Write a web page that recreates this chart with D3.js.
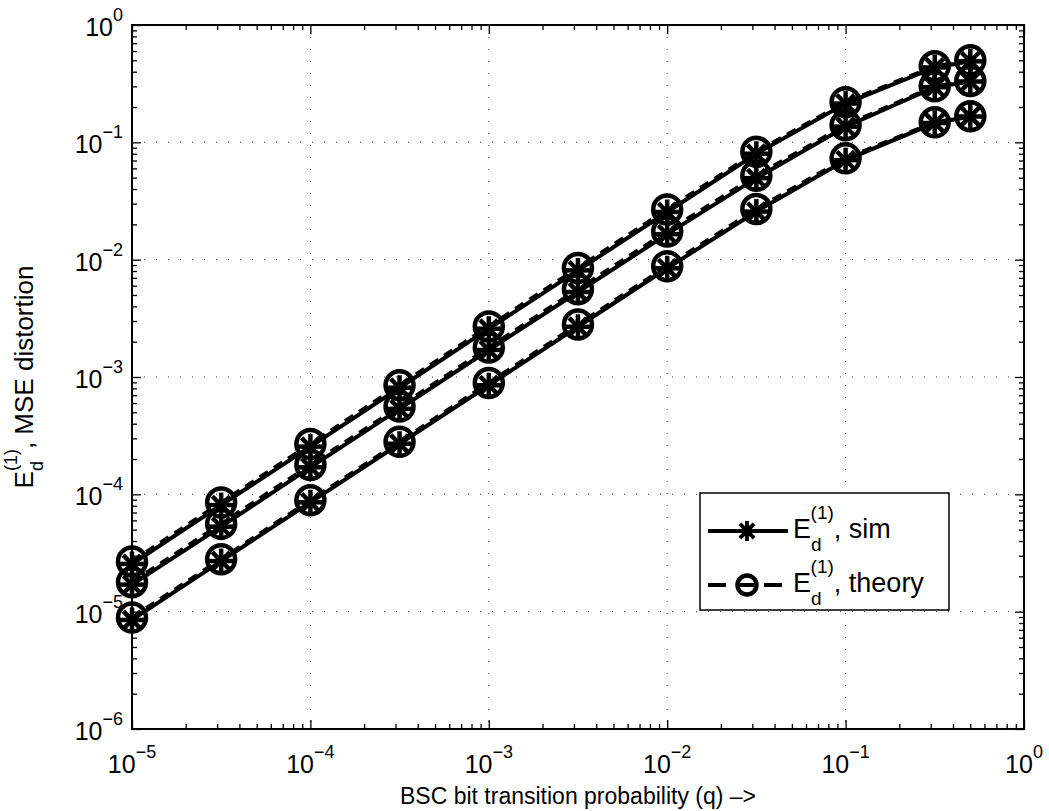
<!DOCTYPE html>
<html>
<head>
<meta charset="utf-8">
<script src="https://cdn.jsdelivr.net/npm/d3@7"></script>
<style>
  body { margin: 0; background: #fff; }
  svg { display: block; }
  text { font-family: "Liberation Sans", Arial, Helvetica, sans-serif; fill: #000; }
</style>
</head>
<body>
<div id="vis1"></div>
<script>
const FRAME_WIDTH = 1049;
const FRAME_HEIGHT = 811;
const MARGINS = {left: 132, right: 25, top: 25, bottom: 82};
const VIS_WIDTH = FRAME_WIDTH - MARGINS.left - MARGINS.right;
const VIS_HEIGHT = FRAME_HEIGHT - MARGINS.top - MARGINS.bottom;

// data
const qValues = [1e-5, 3.16e-5, 1e-4, 3.16e-4, 1e-3, 3.16e-3, 1e-2, 3.16e-2, 0.1, 0.316, 0.5];

const simHigh = [2.55e-5, 8.1e-5, 2.55e-4, 8.1e-4, 2.58e-3, 8.1e-3, 2.55e-2, 8.0e-2, 0.214, 0.435, 0.49];
const simMid  = [1.7e-5, 5.3e-5, 1.7e-4, 5.35e-4, 1.7e-3, 5.3e-3, 1.65e-2, 4.95e-2, 0.136, 0.295, 0.33];
const simLow  = [8.5e-6, 2.7e-5, 8.55e-5, 2.7e-4, 8.5e-4, 2.68e-3, 8.45e-3, 2.57e-2, 7.05e-2, 0.146, 0.166];

const theoryHigh = [2.68e-5, 8.5e-5, 2.68e-4, 8.5e-4, 2.7e-3, 8.5e-3, 2.68e-2, 8.3e-2, 0.22, 0.445, 0.5];
const theoryMid  = [1.78e-5, 5.6e-5, 1.78e-4, 5.6e-4, 1.78e-3, 5.6e-3, 1.74e-2, 5.2e-2, 0.14, 0.3, 0.333];
const theoryLow  = [8.9e-6, 2.8e-5, 8.9e-5, 2.8e-4, 8.9e-4, 2.8e-3, 8.8e-3, 2.7e-2, 7.3e-2, 0.148, 0.1667];

const xTickExps = [-5, -4, -3, -2, -1, 0];
const yTickExps = [-6, -5, -4, -3, -2, -1, 0];

const xLabel = "BSC bit transition probability (q) \u2013>";
const legendNames = [", sim", ", theory"];

const FRAME1 = d3.select('#vis1')
  .append('svg')
    .attr('width', FRAME_WIDTH)
    .attr('height', FRAME_HEIGHT);

const X_SCALE = d3.scaleLog().domain([1e-5, 1]).range([0, VIS_WIDTH]);
const Y_SCALE = d3.scaleLog().domain([1e-6, 1]).range([VIS_HEIGHT, 0]);

const plot = FRAME1.append('g')
  .attr('transform', 'translate(' + MARGINS.left + ',' + MARGINS.top + ')');

// dotted grid at decades
const majorX = xTickExps.map(e => Math.pow(10, e));
const majorY = yTickExps.map(e => Math.pow(10, e));

plot.append('g').selectAll('line')
  .data(majorX.slice(1, -1))
  .enter().append('line')
    .attr('x1', d => X_SCALE(d)).attr('x2', d => X_SCALE(d))
    .attr('y1', 0).attr('y2', VIS_HEIGHT)
    .attr('stroke', '#333').attr('stroke-width', 1)
    .attr('stroke-dasharray', '1,11');

plot.append('g').selectAll('line')
  .data(majorY.slice(1, -1))
  .enter().append('line')
    .attr('y1', d => Y_SCALE(d)).attr('y2', d => Y_SCALE(d))
    .attr('x1', 0).attr('x2', VIS_WIDTH)
    .attr('stroke', '#333').attr('stroke-width', 1)
    .attr('stroke-dasharray', '1,11');

// minor ticks
const minorX = [], minorY = [];
xTickExps.slice(0, -1).forEach(e => { for (let k = 2; k <= 9; k++) minorX.push(k * Math.pow(10, e)); });
yTickExps.slice(0, -1).forEach(e => { for (let k = 2; k <= 9; k++) minorY.push(k * Math.pow(10, e)); });

function addAxis(axisFn, scale, values, size, transform) {
  const g = plot.append('g')
    .attr('transform', transform)
    .call(axisFn(scale).tickValues(values).tickSize(size).tickFormat(''));
  g.select('.domain').remove();
  g.selectAll('line').attr('stroke', '#000').attr('stroke-width', 1.3);
}

addAxis(d3.axisBottom, X_SCALE, majorX, -9, 'translate(0,' + VIS_HEIGHT + ')');
addAxis(d3.axisBottom, X_SCALE, minorX, -5, 'translate(0,' + VIS_HEIGHT + ')');
addAxis(d3.axisTop, X_SCALE, majorX, -9, 'translate(0,0)');
addAxis(d3.axisTop, X_SCALE, minorX, -5, 'translate(0,0)');
addAxis(d3.axisLeft, Y_SCALE, majorY, -9, 'translate(0,0)');
addAxis(d3.axisLeft, Y_SCALE, minorY, -5, 'translate(0,0)');
addAxis(d3.axisRight, Y_SCALE, majorY, -9, 'translate(' + VIS_WIDTH + ',0)');
addAxis(d3.axisRight, Y_SCALE, minorY, -5, 'translate(' + VIS_WIDTH + ',0)');

// box
plot.append('rect')
  .attr('x', 0).attr('y', 0)
  .attr('width', VIS_WIDTH).attr('height', VIS_HEIGHT)
  .attr('fill', 'none').attr('stroke', '#000').attr('stroke-width', 2);

// tick labels
function expText(e) { return e < 0 ? '\u2212' + (-e) : String(e); }

const xLabels = plot.append('g').selectAll('text')
  .data(xTickExps)
  .enter().append('text')
    .attr('x', d => X_SCALE(Math.pow(10, d)))
    .attr('y', VIS_HEIGHT + 44)
    .attr('text-anchor', 'middle')
    .style('font-size', '25px');
xLabels.append('tspan').text('10');
xLabels.append('tspan').attr('dy', -15).style('font-size', '18px').text(d => expText(d));

const yLabels = plot.append('g').selectAll('text')
  .data(yTickExps)
  .enter().append('text')
    .attr('x', -9)
    .attr('y', d => Y_SCALE(Math.pow(10, d)) + 11)
    .attr('text-anchor', 'end')
    .style('font-size', '25px');
yLabels.append('tspan').text('10');
yLabels.append('tspan').attr('dy', -15).style('font-size', '18px').text(d => expText(d));

// series
const series = [
  {vals: simHigh, dash: null, marker: 'star'},
  {vals: simMid, dash: null, marker: 'star'},
  {vals: simLow, dash: null, marker: 'star'},
  {vals: theoryHigh, dash: '10,7', marker: 'circle'},
  {vals: theoryMid, dash: '10,7', marker: 'circle'},
  {vals: theoryLow, dash: '10,7', marker: 'circle'}
];

const line = d3.line()
  .x(d => X_SCALE(d[0]))
  .y(d => Y_SCALE(d[1]));

function drawStar(g, cx, cy, r, w) {
  [0, 45, 90, 135].forEach(a => {
    const rad = a * Math.PI / 180;
    g.append('line')
      .attr('x1', cx - r * Math.cos(rad)).attr('y1', cy - r * Math.sin(rad))
      .attr('x2', cx + r * Math.cos(rad)).attr('y2', cy + r * Math.sin(rad))
      .attr('stroke', '#000').attr('stroke-width', w);
  });
}

function drawMarker(g, type, cx, cy, big) {
  if (type === 'star') {
    drawStar(g, cx, cy, big ? 12.5 : 10, big ? 4.5 : 4);
  } else {
    g.append('circle')
      .attr('cx', cx).attr('cy', cy).attr('r', big ? 14 : 9.5)
      .attr('fill', 'none').attr('stroke', '#000').attr('stroke-width', 4.5);
  }
}

series.forEach(s => {
  const pts = qValues.map((q, i) => [q, s.vals[i]]);
  plot.append('path')
    .datum(pts)
    .attr('fill', 'none')
    .attr('stroke', '#000')
    .attr('stroke-width', 4)
    .attr('stroke-dasharray', s.dash)
    .attr('d', line);
  const mg = plot.append('g');
  pts.forEach(p => drawMarker(mg, s.marker, X_SCALE(p[0]), Y_SCALE(p[1]), true));
});

// legend
const LEG = {x: 700, y: 493, w: 249, h: 117};
const legend = FRAME1.append('g');
legend.append('rect')
  .attr('x', LEG.x).attr('y', LEG.y)
  .attr('width', LEG.w).attr('height', LEG.h)
  .attr('fill', '#fff').attr('stroke', '#000').attr('stroke-width', 1.5);

legendNames.forEach((name, i) => {
  const cy = LEG.y + 38 + i * 54;
  legend.append('line')
    .attr('x1', LEG.x + 8).attr('x2', LEG.x + 88)
    .attr('y1', cy).attr('y2', cy)
    .attr('stroke', '#000').attr('stroke-width', 4)
    .attr('stroke-dasharray', i === 0 ? null : '18,10');
  drawMarker(legend, i === 0 ? 'star' : 'circle', LEG.x + 47, cy, false);
  const t = legend.append('text')
    .attr('x', LEG.x + 93).attr('y', cy + 7)
    .style('font-size', '27px');
  t.append('tspan').text('E');
  t.append('tspan').attr('dy', 13).style('font-size', '19px').text('d');
  t.append('tspan').attr('dx', -11).attr('dy', -32).style('font-size', '19px').text('(1)');
  t.append('tspan').attr('dy', 19).text(name);
});

// axis titles
FRAME1.append('text')
  .attr('x', MARGINS.left + VIS_WIDTH / 2)
  .attr('y', 804)
  .attr('text-anchor', 'middle')
  .style('font-size', '23px')
  .text(xLabel);

const yt = FRAME1.append('text')
  .attr('transform', 'translate(33,' + (MARGINS.top + VIS_HEIGHT / 2) + ') rotate(-90)')
  .attr('text-anchor', 'middle')
  .style('font-size', '26px');
yt.append('tspan').text('E');
yt.append('tspan').attr('dy', 10).style('font-size', '18px').text('d');
yt.append('tspan').attr('dx', -10).attr('dy', -26).style('font-size', '18px').text('(1)');
yt.append('tspan').attr('dy', 16).text(', MSE distortion');
</script>
</body>
</html>
